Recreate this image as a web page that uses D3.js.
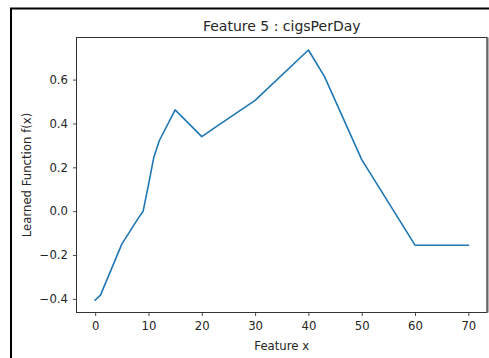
<!DOCTYPE html>
<html>
<head>
<meta charset="utf-8">
<script src="https://cdn.jsdelivr.net/npm/d3@7"></script>
<style>
  html, body { margin: 0; padding: 0; background: #fff; }
  svg { display: block; }
  text { font-family: "DejaVu Sans", sans-serif; fill: #262626; }
</style>
</head>
<body>
<svg id="chart" width="489" height="358"></svg>
<script>
// Learned shape function for cigsPerDay
const featureX = [0, 1, 5, 8, 9, 10, 11, 12, 15, 20, 23, 30, 40, 43, 50, 60, 70];
const learnedFx = [-0.405, -0.383, -0.15, -0.035, 0.0, 0.12, 0.245, 0.32, 0.462, 0.34, 0.39, 0.505, 0.735, 0.615, 0.235, -0.155, -0.155];
const xTicks = [0, 10, 20, 30, 40, 50, 60, 70];
const yTicks = [-0.4, -0.2, 0.0, 0.2, 0.4, 0.6];
const titleText = "Feature 5 : cigsPerDay";
const xLabel = "Feature x";
const yLabel = "Learned Function f(x)";

const svg = d3.select("#chart");
const W = 489, H = 358;

// outer frame (clipped at right/bottom)
svg.append("path")
  .attr("d", `M11,${H} L11,8.5 L${W},8.5`)
  .attr("fill", "none")
  .attr("stroke", "#000")
  .attr("stroke-width", 2);

const plot = { left: 76.5, top: 37.5, right: 487, bottom: 312.5 };

// 5% padding around data extent
const xExt = d3.extent(featureX), yExt = d3.extent(learnedFx);
const xPad = (xExt[1] - xExt[0]) * 0.05, yPad = (yExt[1] - yExt[0]) * 0.05;
const x = d3.scaleLinear().domain([xExt[0] - xPad, xExt[1] + xPad]).range([plot.left, plot.right]);
const y = d3.scaleLinear().domain([yExt[0] - yPad, yExt[1] + yPad]).range([plot.bottom, plot.top]);

const fmtY = v => d3.format(".1f")(v).replace("-", "\u2212");
const tickFont = 11.7;

const xAxis = svg.append("g")
  .attr("transform", `translate(0,${plot.bottom})`)
  .call(d3.axisBottom(x).tickValues(xTicks).tickSize(3.5).tickPadding(5.5).tickFormat(d3.format("d")));
const yAxis = svg.append("g")
  .attr("transform", `translate(${plot.left},0)`)
  .call(d3.axisLeft(y).tickValues(yTicks).tickSize(3.5).tickPadding(5).tickFormat(fmtY));

[xAxis, yAxis].forEach(g => {
  g.select(".domain").remove();
  g.selectAll(".tick line").attr("stroke", "#333").attr("stroke-width", 0.9);
  g.selectAll(".tick text").attr("font-size", tickFont).attr("fill", "#262626")
    .style("font-family", "'DejaVu Sans', sans-serif");
});

// spines
svg.append("rect")
  .attr("x", plot.left).attr("y", plot.top)
  .attr("width", plot.right - plot.left).attr("height", plot.bottom - plot.top)
  .attr("fill", "none").attr("stroke", "#333").attr("stroke-width", 1);
svg.append("line")
  .attr("x1", plot.right + 0.5).attr("x2", plot.right + 0.5)
  .attr("y1", plot.top).attr("y2", plot.bottom)
  .attr("stroke", "#666").attr("stroke-width", 2);

// learned function curve
const line = d3.line().x((d, i) => x(featureX[i])).y(d => y(d));
svg.append("path")
  .datum(learnedFx)
  .attr("d", line)
  .attr("fill", "none")
  .attr("stroke", "#1f77b4")
  .attr("stroke-width", 1.6)
  .attr("stroke-linejoin", "round")
  .attr("stroke-linecap", "square");

// title and axis labels
svg.append("text")
  .attr("x", (plot.left + plot.right) / 2).attr("y", 30.5)
  .attr("text-anchor", "middle").attr("font-size", 14)
  .text(titleText);
svg.append("text")
  .attr("x", (plot.left + plot.right) / 2).attr("y", 349.5)
  .attr("text-anchor", "middle").attr("font-size", tickFont)
  .text(xLabel);
svg.append("text")
  .attr("transform", `translate(30.5,${(plot.top + plot.bottom) / 2}) rotate(-90)`)
  .attr("text-anchor", "middle").attr("font-size", tickFont)
  .text(yLabel);
</script>
</body>
</html>
